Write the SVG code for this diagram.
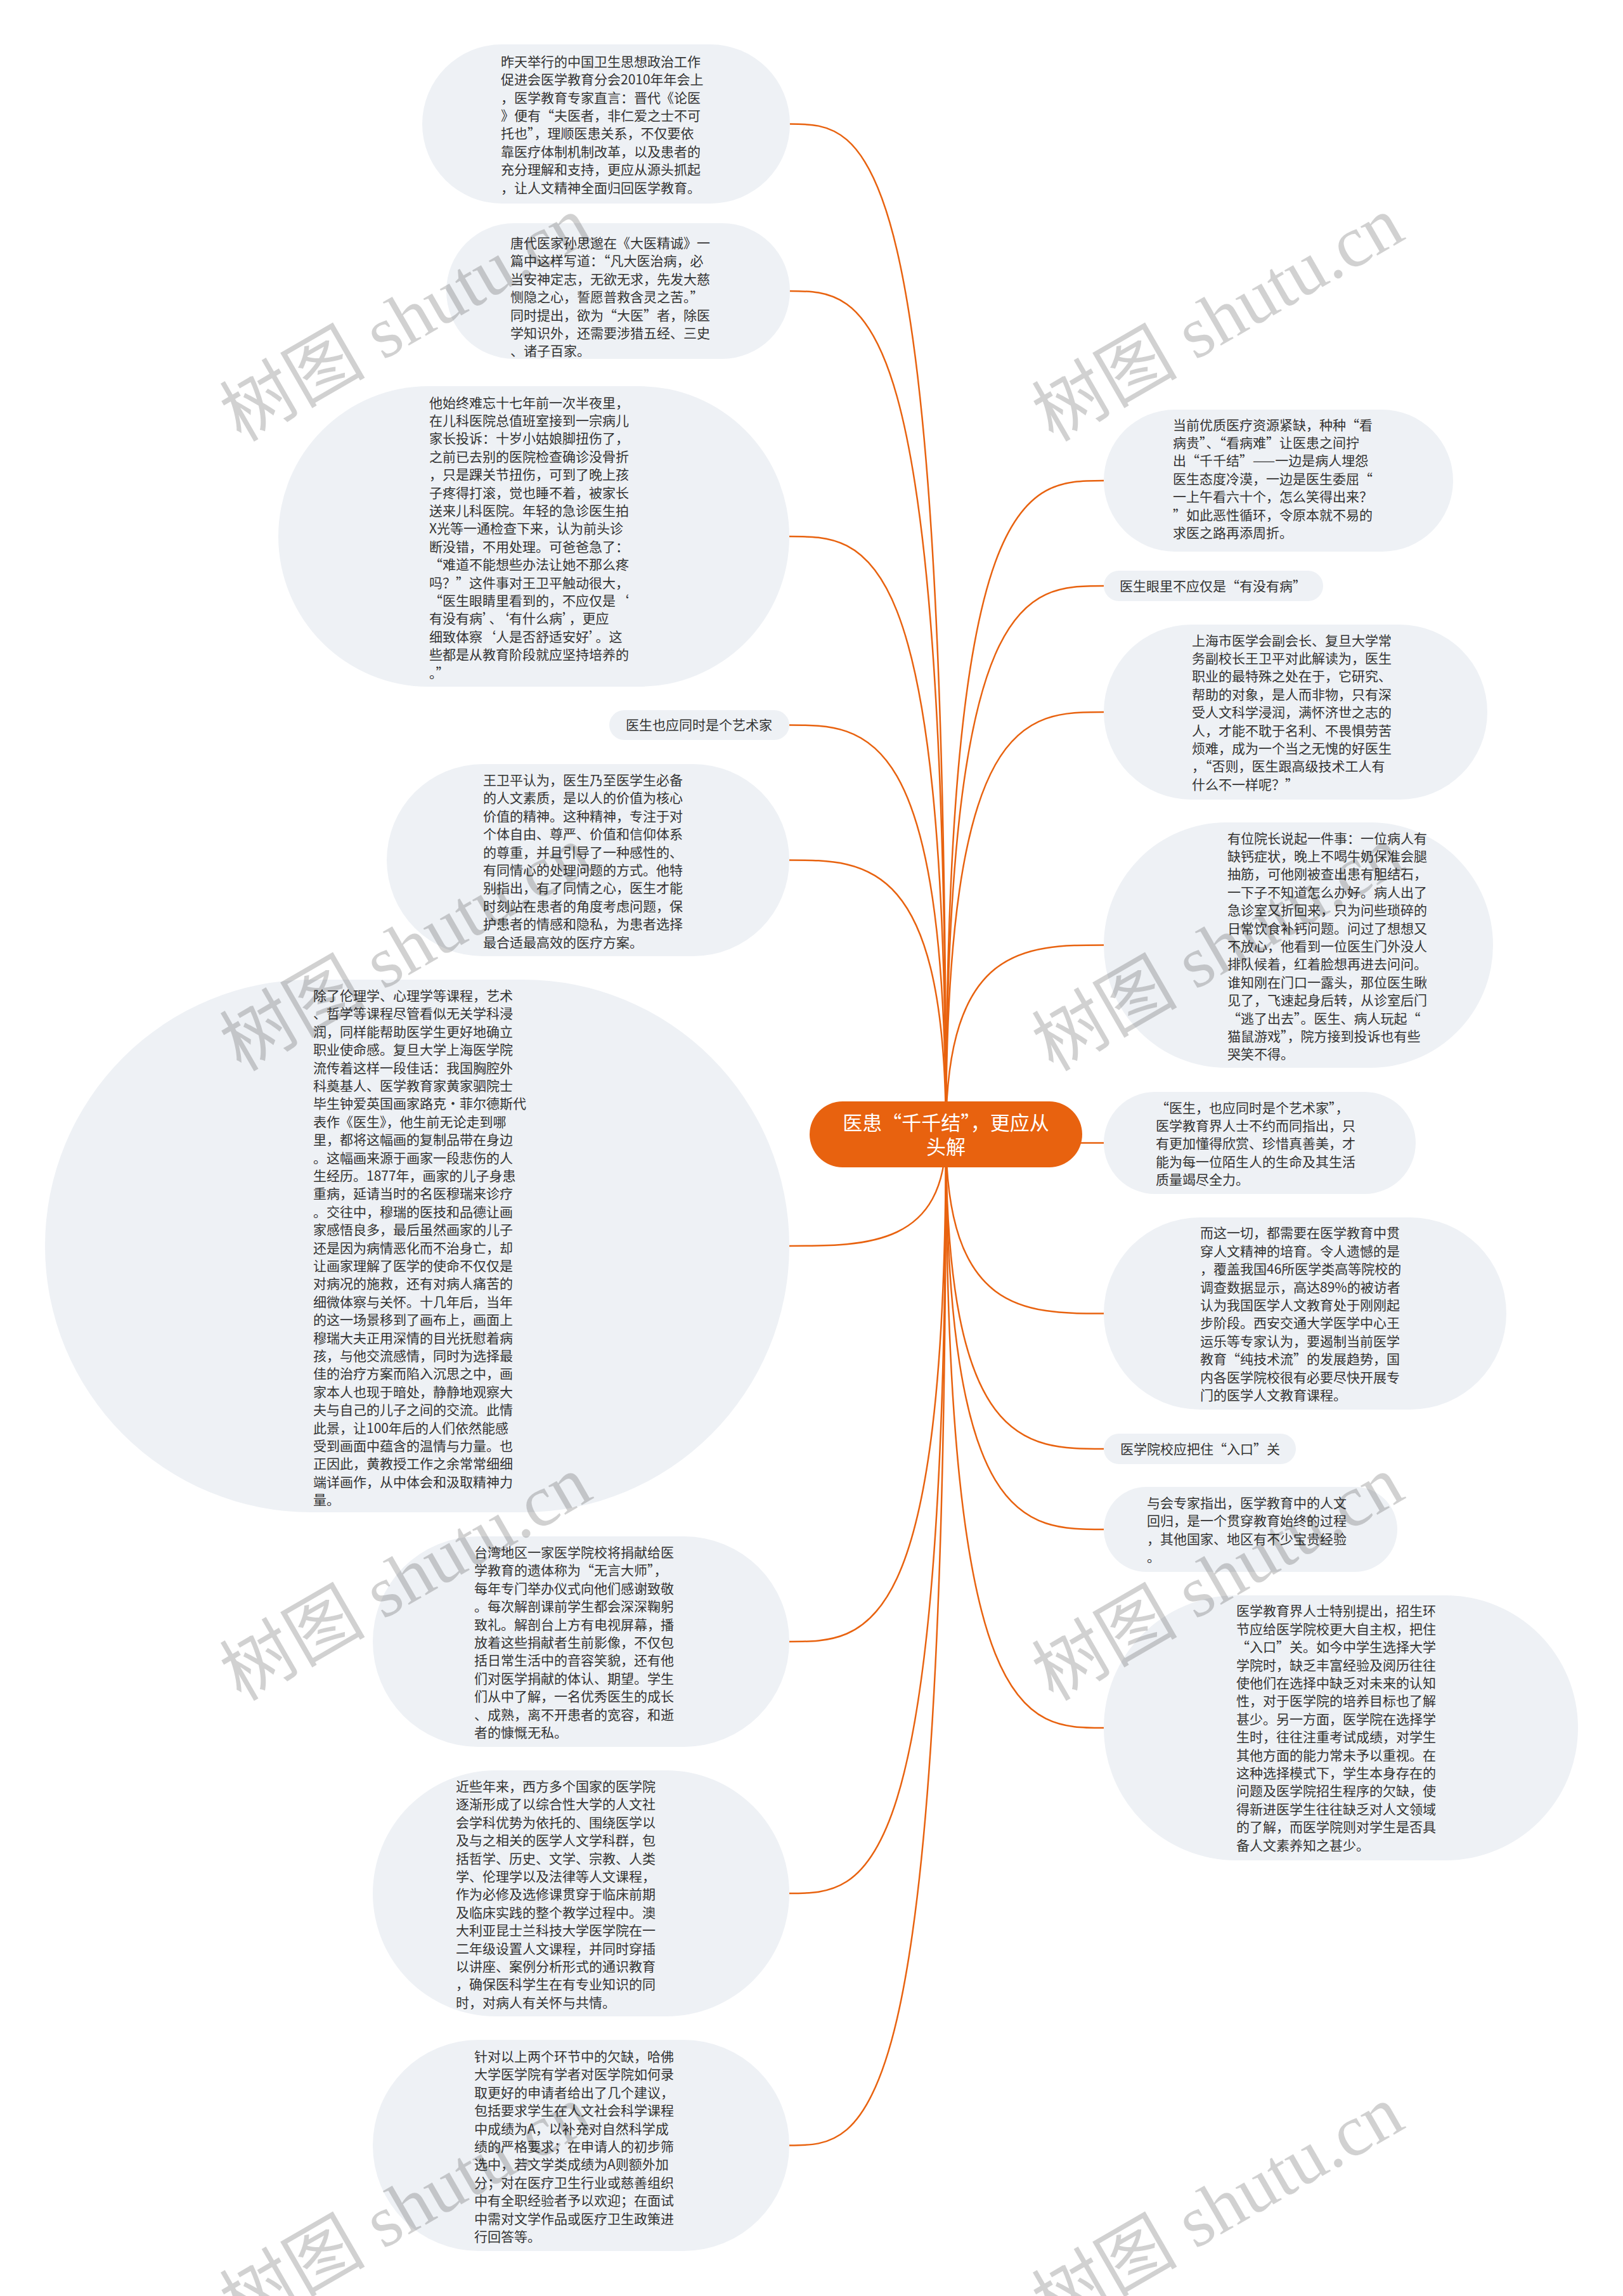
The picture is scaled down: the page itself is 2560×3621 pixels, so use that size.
<svg xmlns="http://www.w3.org/2000/svg" width="2560" height="3621" viewBox="0 0 2560 3621">
<style>
.bg{fill:#EEF1F5}
.t{font-family:"Noto Sans CJK SC","Noto Sans",sans-serif;font-size:21px;fill:#333333}
.ct{font-family:"Noto Sans CJK SC","Noto Sans",sans-serif;font-size:31px;fill:#ffffff;text-anchor:middle}
.c{fill:none;stroke:#E8620F;stroke-width:2.5}
.wm{font-family:"Liberation Serif","Noto Sans CJK SC",serif;font-size:115px;fill:#000000;fill-opacity:0.18}
</style>
<rect width="2560" height="3621" fill="#ffffff"/>
<g id="connectors">
<path class="c" d="M1492,1789 C1492,195.5 1368.5,195.5 1245,195.5"/>
<path class="c" d="M1492,1789 C1492,459 1368.5,459 1245,459"/>
<path class="c" d="M1492,1789 C1492,846 1368.5,846 1245,846"/>
<path class="c" d="M1492,1789 C1492,1143.5 1368.5,1143.5 1245,1143.5"/>
<path class="c" d="M1492,1789 C1492,1356.5 1368.5,1356.5 1245,1356.5"/>
<path class="c" d="M1492,1789 C1492,1965 1368.5,1965 1245,1965"/>
<path class="c" d="M1492,1789 C1492,2589 1368.5,2589 1245,2589"/>
<path class="c" d="M1492,1789 C1492,2986 1368.5,2986 1245,2986"/>
<path class="c" d="M1492,1789 C1492,3383.5 1368.5,3383.5 1245,3383.5"/>
<path class="c" d="M1492,1789 C1492,758 1616.5,758 1741,758"/>
<path class="c" d="M1492,1789 C1492,924 1616.5,924 1741,924"/>
<path class="c" d="M1492,1789 C1492,1123 1616.5,1123 1741,1123"/>
<path class="c" d="M1492,1789 C1492,1490.5 1616.5,1490.5 1741,1490.5"/>
<path class="c" d="M1492,1789 C1492,1802.5 1616.5,1802.5 1741,1802.5"/>
<path class="c" d="M1492,1789 C1492,2071.5 1616.5,2071.5 1741,2071.5"/>
<path class="c" d="M1492,1789 C1492,2285 1616.5,2285 1741,2285"/>
<path class="c" d="M1492,1789 C1492,2412 1616.5,2412 1741,2412"/>
<path class="c" d="M1492,1789 C1492,2725 1616.5,2725 1741,2725"/>
</g>
<g id="center">
<rect x="1277" y="1737" width="430" height="104" rx="52" fill="#E8620F"/>
<text class="ct" x="1492" y="1782">医患“千千结”，更应从</text>
<text class="ct" x="1492" y="1820">头解</text>
</g>
<g id="n1">
<rect class="bg" x="666" y="70" width="580" height="251" rx="125.5"/>
<text class="t" x="790" y="104.7"><tspan x="790" dy="0">昨天举行的中国卫生思想政治工作</tspan><tspan x="790" dy="28.4">促进会医学教育分会2010年年会上</tspan><tspan x="790" dy="28.4">，医学教育专家直言：晋代《论医</tspan><tspan x="790" dy="28.4">》便有“夫医者，非仁爱之士不可</tspan><tspan x="790" dy="28.4">托也”，理顺医患关系，不仅要依</tspan><tspan x="790" dy="28.4">靠医疗体制机制改革，以及患者的</tspan><tspan x="790" dy="28.4">充分理解和支持，更应从源头抓起</tspan><tspan x="790" dy="28.4">，让人文精神全面归回医学教育。</tspan></text>
</g>
<g id="n2">
<rect class="bg" x="704" y="352" width="542" height="214" rx="107"/>
<text class="t" x="805" y="391"><tspan x="805" dy="0">唐代医家孙思邈在《大医精诚》一</tspan><tspan x="805" dy="28.4">篇中这样写道：“凡大医治病，必</tspan><tspan x="805" dy="28.4">当安神定志，无欲无求，先发大慈</tspan><tspan x="805" dy="28.4">恻隐之心，誓愿普救含灵之苦。”</tspan><tspan x="805" dy="28.4">同时提出，欲为“大医”者，除医</tspan><tspan x="805" dy="28.4">学知识外，还需要涉猎五经、三史</tspan><tspan x="805" dy="28.4">、诸子百家。</tspan></text>
</g>
<g id="n3">
<rect class="bg" x="439" y="609" width="806" height="474" rx="237"/>
<text class="t" x="677" y="642.5"><tspan x="677" dy="0">他始终难忘十七年前一次半夜里，</tspan><tspan x="677" dy="28.4">在儿科医院总值班室接到一宗病儿</tspan><tspan x="677" dy="28.4">家长投诉：十岁小姑娘脚扭伤了，</tspan><tspan x="677" dy="28.4">之前已去别的医院检查确诊没骨折</tspan><tspan x="677" dy="28.4">，只是踝关节扭伤，可到了晚上孩</tspan><tspan x="677" dy="28.4">子疼得打滚，觉也睡不着，被家长</tspan><tspan x="677" dy="28.4">送来儿科医院。年轻的急诊医生拍</tspan><tspan x="677" dy="28.4">X光等一通检查下来，认为前头诊</tspan><tspan x="677" dy="28.4">断没错，不用处理。可爸爸急了：</tspan><tspan x="677" dy="28.4">“难道不能想些办法让她不那么疼</tspan><tspan x="677" dy="28.4">吗？”这件事对王卫平触动很大，</tspan><tspan x="677" dy="28.4">“医生眼睛里看到的，不应仅是‘</tspan><tspan x="677" dy="28.4">有没有病’、‘有什么病’，更应</tspan><tspan x="677" dy="28.4">细致体察‘人是否舒适安好’。这</tspan><tspan x="677" dy="28.4">些都是从教育阶段就应坚持培养的</tspan><tspan x="677" dy="28.4">。”</tspan></text>
</g>
<g id="n4">
<rect class="bg" x="961" y="1120" width="284" height="47" rx="23.5"/>
<text class="t" x="987" y="1151">医生也应同时是个艺术家</text>
</g>
<g id="n5">
<rect class="bg" x="610" y="1205" width="635" height="303" rx="151.5"/>
<text class="t" x="762" y="1238"><tspan x="762" dy="0">王卫平认为，医生乃至医学生必备</tspan><tspan x="762" dy="28.4">的人文素质，是以人的价值为核心</tspan><tspan x="762" dy="28.4">价值的精神。这种精神，专注于对</tspan><tspan x="762" dy="28.4">个体自由、尊严、价值和信仰体系</tspan><tspan x="762" dy="28.4">的尊重，并且引导了一种感性的、</tspan><tspan x="762" dy="28.4">有同情心的处理问题的方式。他特</tspan><tspan x="762" dy="28.4">别指出，有了同情之心，医生才能</tspan><tspan x="762" dy="28.4">时刻站在患者的角度考虑问题，保</tspan><tspan x="762" dy="28.4">护患者的情感和隐私，为患者选择</tspan><tspan x="762" dy="28.4">最合适最高效的医疗方案。</tspan></text>
</g>
<g id="n6">
<rect class="bg" x="71" y="1545" width="1174" height="840" rx="420"/>
<text class="t" x="494" y="1578"><tspan x="494" dy="0">除了伦理学、心理学等课程，艺术</tspan><tspan x="494" dy="28.4">、哲学等课程尽管看似无关学科浸</tspan><tspan x="494" dy="28.4">润，同样能帮助医学生更好地确立</tspan><tspan x="494" dy="28.4">职业使命感。复旦大学上海医学院</tspan><tspan x="494" dy="28.4">流传着这样一段佳话：我国胸腔外</tspan><tspan x="494" dy="28.4">科奠基人、医学教育家黄家驷院士</tspan><tspan x="494" dy="28.4">毕生钟爱英国画家路克·菲尔德斯代</tspan><tspan x="494" dy="28.4">表作《医生》，他生前无论走到哪</tspan><tspan x="494" dy="28.4">里，都将这幅画的复制品带在身边</tspan><tspan x="494" dy="28.4">。这幅画来源于画家一段悲伤的人</tspan><tspan x="494" dy="28.4">生经历。1877年，画家的儿子身患</tspan><tspan x="494" dy="28.4">重病，延请当时的名医穆瑞来诊疗</tspan><tspan x="494" dy="28.4">。交往中，穆瑞的医技和品德让画</tspan><tspan x="494" dy="28.4">家感悟良多，最后虽然画家的儿子</tspan><tspan x="494" dy="28.4">还是因为病情恶化而不治身亡，却</tspan><tspan x="494" dy="28.4">让画家理解了医学的使命不仅仅是</tspan><tspan x="494" dy="28.4">对病况的施救，还有对病人痛苦的</tspan><tspan x="494" dy="28.4">细微体察与关怀。十几年后，当年</tspan><tspan x="494" dy="28.4">的这一场景移到了画布上，画面上</tspan><tspan x="494" dy="28.4">穆瑞大夫正用深情的目光抚慰着病</tspan><tspan x="494" dy="28.4">孩，与他交流感情，同时为选择最</tspan><tspan x="494" dy="28.4">佳的治疗方案而陷入沉思之中，画</tspan><tspan x="494" dy="28.4">家本人也现于暗处，静静地观察大</tspan><tspan x="494" dy="28.4">夫与自己的儿子之间的交流。此情</tspan><tspan x="494" dy="28.4">此景，让100年后的人们依然能感</tspan><tspan x="494" dy="28.4">受到画面中蕴含的温情与力量。也</tspan><tspan x="494" dy="28.4">正因此，黄教授工作之余常常细细</tspan><tspan x="494" dy="28.4">端详画作，从中体会和汲取精神力</tspan><tspan x="494" dy="28.4">量。</tspan></text>
</g>
<g id="n7">
<rect class="bg" x="588" y="2423" width="657" height="332" rx="166"/>
<text class="t" x="748" y="2456"><tspan x="748" dy="0">台湾地区一家医学院校将捐献给医</tspan><tspan x="748" dy="28.4">学教育的遗体称为“无言大师”，</tspan><tspan x="748" dy="28.4">每年专门举办仪式向他们感谢致敬</tspan><tspan x="748" dy="28.4">。每次解剖课前学生都会深深鞠躬</tspan><tspan x="748" dy="28.4">致礼。解剖台上方有电视屏幕，播</tspan><tspan x="748" dy="28.4">放着这些捐献者生前影像，不仅包</tspan><tspan x="748" dy="28.4">括日常生活中的音容笑貌，还有他</tspan><tspan x="748" dy="28.4">们对医学捐献的体认、期望。学生</tspan><tspan x="748" dy="28.4">们从中了解，一名优秀医生的成长</tspan><tspan x="748" dy="28.4">、成熟，离不开患者的宽容，和逝</tspan><tspan x="748" dy="28.4">者的慷慨无私。</tspan></text>
</g>
<g id="n8">
<rect class="bg" x="588" y="2792" width="657" height="388" rx="194"/>
<text class="t" x="719" y="2825"><tspan x="719" dy="0">近些年来，西方多个国家的医学院</tspan><tspan x="719" dy="28.4">逐渐形成了以综合性大学的人文社</tspan><tspan x="719" dy="28.4">会学科优势为依托的、围绕医学以</tspan><tspan x="719" dy="28.4">及与之相关的医学人文学科群，包</tspan><tspan x="719" dy="28.4">括哲学、历史、文学、宗教、人类</tspan><tspan x="719" dy="28.4">学、伦理学以及法律等人文课程，</tspan><tspan x="719" dy="28.4">作为必修及选修课贯穿于临床前期</tspan><tspan x="719" dy="28.4">及临床实践的整个教学过程中。澳</tspan><tspan x="719" dy="28.4">大利亚昆士兰科技大学医学院在一</tspan><tspan x="719" dy="28.4">二年级设置人文课程，并同时穿插</tspan><tspan x="719" dy="28.4">以讲座、案例分析形式的通识教育</tspan><tspan x="719" dy="28.4">，确保医科学生在有专业知识的同</tspan><tspan x="719" dy="28.4">时，对病人有关怀与共情。</tspan></text>
</g>
<g id="n9">
<rect class="bg" x="588" y="3217" width="657" height="333" rx="166.5"/>
<text class="t" x="748" y="3251"><tspan x="748" dy="0">针对以上两个环节中的欠缺，哈佛</tspan><tspan x="748" dy="28.4">大学医学院有学者对医学院如何录</tspan><tspan x="748" dy="28.4">取更好的申请者给出了几个建议，</tspan><tspan x="748" dy="28.4">包括要求学生在人文社会科学课程</tspan><tspan x="748" dy="28.4">中成绩为A，以补充对自然科学成</tspan><tspan x="748" dy="28.4">绩的严格要求；在申请人的初步筛</tspan><tspan x="748" dy="28.4">选中，若文学类成绩为A则额外加</tspan><tspan x="748" dy="28.4">分；对在医疗卫生行业或慈善组织</tspan><tspan x="748" dy="28.4">中有全职经验者予以欢迎；在面试</tspan><tspan x="748" dy="28.4">中需对文学作品或医疗卫生政策进</tspan><tspan x="748" dy="28.4">行回答等。</tspan></text>
</g>
<g id="r1">
<rect class="bg" x="1741" y="646" width="551" height="224" rx="112"/>
<text class="t" x="1850" y="677.6"><tspan x="1850" dy="0">当前优质医疗资源紧缺，种种“看</tspan><tspan x="1850" dy="28.4">病贵”、“看病难”让医患之间拧</tspan><tspan x="1850" dy="28.4">出“千千结”——一边是病人埋怨</tspan><tspan x="1850" dy="28.4">医生态度冷漠，一边是医生委屈“</tspan><tspan x="1850" dy="28.4">一上午看六十个，怎么笑得出来？</tspan><tspan x="1850" dy="28.4">”如此恶性循环，令原本就不易的</tspan><tspan x="1850" dy="28.4">求医之路再添周折。</tspan></text>
</g>
<g id="r2">
<rect class="bg" x="1741" y="900" width="346" height="48" rx="24"/>
<text class="t" x="1766" y="932">医生眼里不应仅是“有没有病”</text>
</g>
<g id="r3">
<rect class="bg" x="1741" y="985" width="605" height="276" rx="138"/>
<text class="t" x="1880" y="1017.6"><tspan x="1880" dy="0">上海市医学会副会长、复旦大学常</tspan><tspan x="1880" dy="28.4">务副校长王卫平对此解读为，医生</tspan><tspan x="1880" dy="28.4">职业的最特殊之处在于，它研究、</tspan><tspan x="1880" dy="28.4">帮助的对象，是人而非物，只有深</tspan><tspan x="1880" dy="28.4">受人文科学浸润，满怀济世之志的</tspan><tspan x="1880" dy="28.4">人，才能不耽于名利、不畏惧劳苦</tspan><tspan x="1880" dy="28.4">烦难，成为一个当之无愧的好医生</tspan><tspan x="1880" dy="28.4">，“否则，医生跟高级技术工人有</tspan><tspan x="1880" dy="28.4">什么不一样呢？”</tspan></text>
</g>
<g id="r4">
<rect class="bg" x="1741" y="1297" width="614" height="387" rx="193.5"/>
<text class="t" x="1936" y="1329.6"><tspan x="1936" dy="0">有位院长说起一件事：一位病人有</tspan><tspan x="1936" dy="28.4">缺钙症状，晚上不喝牛奶保准会腿</tspan><tspan x="1936" dy="28.4">抽筋，可他刚被查出患有胆结石，</tspan><tspan x="1936" dy="28.4">一下子不知道怎么办好。病人出了</tspan><tspan x="1936" dy="28.4">急诊室又折回来，只为问些琐碎的</tspan><tspan x="1936" dy="28.4">日常饮食补钙问题。问过了想想又</tspan><tspan x="1936" dy="28.4">不放心，他看到一位医生门外没人</tspan><tspan x="1936" dy="28.4">排队候着，红着脸想再进去问问。</tspan><tspan x="1936" dy="28.4">谁知刚在门口一露头，那位医生瞅</tspan><tspan x="1936" dy="28.4">见了，飞速起身后转，从诊室后门</tspan><tspan x="1936" dy="28.4">“逃了出去”。医生、病人玩起“</tspan><tspan x="1936" dy="28.4">猫鼠游戏”，院方接到投诉也有些</tspan><tspan x="1936" dy="28.4">哭笑不得。</tspan></text>
</g>
<g id="r5">
<rect class="bg" x="1741" y="1722" width="492" height="161" rx="80.5"/>
<text class="t" x="1823" y="1754.6"><tspan x="1823" dy="0">“医生，也应同时是个艺术家”，</tspan><tspan x="1823" dy="28.4">医学教育界人士不约而同指出，只</tspan><tspan x="1823" dy="28.4">有更加懂得欣赏、珍惜真善美，才</tspan><tspan x="1823" dy="28.4">能为每一位陌生人的生命及其生活</tspan><tspan x="1823" dy="28.4">质量竭尽全力。</tspan></text>
</g>
<g id="r6">
<rect class="bg" x="1741" y="1920" width="635" height="303" rx="151.5"/>
<text class="t" x="1893" y="1952.4"><tspan x="1893" dy="0">而这一切，都需要在医学教育中贯</tspan><tspan x="1893" dy="28.4">穿人文精神的培育。令人遗憾的是</tspan><tspan x="1893" dy="28.4">，覆盖我国46所医学类高等院校的</tspan><tspan x="1893" dy="28.4">调查数据显示，高达89%的被访者</tspan><tspan x="1893" dy="28.4">认为我国医学人文教育处于刚刚起</tspan><tspan x="1893" dy="28.4">步阶段。西安交通大学医学中心王</tspan><tspan x="1893" dy="28.4">运乐等专家认为，要遏制当前医学</tspan><tspan x="1893" dy="28.4">教育“纯技术流”的发展趋势，国</tspan><tspan x="1893" dy="28.4">内各医学院校很有必要尽快开展专</tspan><tspan x="1893" dy="28.4">门的医学人文教育课程。</tspan></text>
</g>
<g id="r7">
<rect class="bg" x="1741" y="2261" width="303" height="48" rx="24"/>
<text class="t" x="1767" y="2293">医学院校应把住“入口”关</text>
</g>
<g id="r8">
<rect class="bg" x="1741" y="2345" width="463" height="134" rx="67"/>
<text class="t" x="1809" y="2377.7"><tspan x="1809" dy="0">与会专家指出，医学教育中的人文</tspan><tspan x="1809" dy="28.4">回归，是一个贯穿教育始终的过程</tspan><tspan x="1809" dy="28.4">，其他国家、地区有不少宝贵经验</tspan><tspan x="1809" dy="28.4">。</tspan></text>
</g>
<g id="r9">
<rect class="bg" x="1741" y="2516" width="748" height="418" rx="209"/>
<text class="t" x="1950" y="2548.4"><tspan x="1950" dy="0">医学教育界人士特别提出，招生环</tspan><tspan x="1950" dy="28.4">节应给医学院校更大自主权，把住</tspan><tspan x="1950" dy="28.4">“入口”关。如今中学生选择大学</tspan><tspan x="1950" dy="28.4">学院时，缺乏丰富经验及阅历往往</tspan><tspan x="1950" dy="28.4">使他们在选择中缺乏对未来的认知</tspan><tspan x="1950" dy="28.4">性，对于医学院的培养目标也了解</tspan><tspan x="1950" dy="28.4">甚少。另一方面，医学院在选择学</tspan><tspan x="1950" dy="28.4">生时，往往注重考试成绩，对学生</tspan><tspan x="1950" dy="28.4">其他方面的能力常未予以重视。在</tspan><tspan x="1950" dy="28.4">这种选择模式下，学生本身存在的</tspan><tspan x="1950" dy="28.4">问题及医学院招生程序的欠缺，使</tspan><tspan x="1950" dy="28.4">得新进医学生往往缺乏对人文领域</tspan><tspan x="1950" dy="28.4">的了解，而医学院则对学生是否具</tspan><tspan x="1950" dy="28.4">备人文素养知之甚少。</tspan></text>
</g>
<g id="watermarks">
<text class="wm" transform="translate(380,698) rotate(-30)">树图 shutu.cn</text>
<text class="wm" transform="translate(1661,698) rotate(-30)">树图 shutu.cn</text>
<text class="wm" transform="translate(380,1691) rotate(-30)">树图 shutu.cn</text>
<text class="wm" transform="translate(1661,1691) rotate(-30)">树图 shutu.cn</text>
<text class="wm" transform="translate(380,2684) rotate(-30)">树图 shutu.cn</text>
<text class="wm" transform="translate(1661,2684) rotate(-30)">树图 shutu.cn</text>
<text class="wm" transform="translate(380,3677) rotate(-30)">树图 shutu.cn</text>
<text class="wm" transform="translate(1661,3677) rotate(-30)">树图 shutu.cn</text>
</g>
</svg>
